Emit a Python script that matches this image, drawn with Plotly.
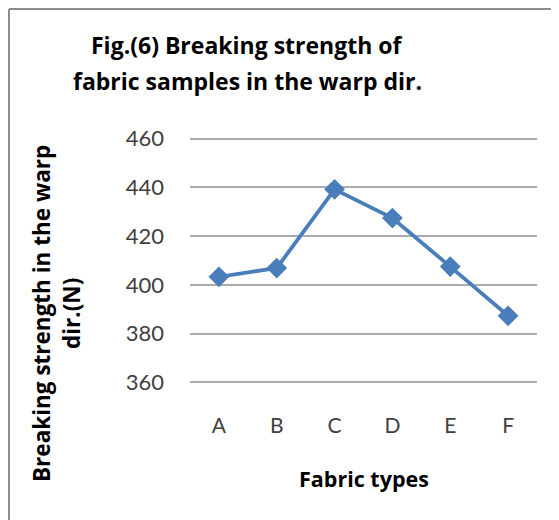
import plotly.graph_objects as go

categories = ["A", "B", "C", "D", "E", "F"]
strength = [403.3, 406.9, 439.2, 427.4, 407.5, 387.3]
y_ticks = [360, 380, 400, 420, 440, 460]

title_lines = ["Fig.(6) Breaking strength of", "fabric samples in the warp dir."]
ytitle_lines = ["Breaking strength in the warp", "dir.(N)"]
xtitle = "Fabric types"

# page has an 8px body margin, so the figure is 8px smaller and shifted
OFF = 8
W, H = 559 - OFF, 520 - OFF
L, R, T, B = 182, 22, 127, 134

fig = go.Figure()
fig.add_trace(go.Scatter(
    x=categories, y=strength, mode="lines+markers",
    line=dict(color="#4A7EBB", width=3.8),
    marker=dict(symbol="diamond", size=16, color="#4A7EBB"),
    showlegend=False,
))

FONT = "Lato"
TFONT = "Open Sans"
pw = W - L - R
ph = H - T - B

def px_x(x):
    return (x - OFF - L) / pw

def px_y(y):
    return (H - B - (y - OFF)) / ph

annotations = [
    dict(text=title_lines[0], x=px_x(247), y=px_y(45), xref="paper", yref="paper",
         showarrow=False, xanchor="center", yanchor="middle",
         font=dict(family=TFONT, size=23, color="#000000", weight="bold")),
    dict(text=title_lines[1], x=px_x(247), y=px_y(81), xref="paper", yref="paper",
         showarrow=False, xanchor="center", yanchor="middle",
         font=dict(family=TFONT, size=23, color="#000000", weight="bold")),
    dict(text=ytitle_lines[0], x=px_x(41), y=px_y(314), xref="paper", yref="paper",
         showarrow=False, xanchor="center", yanchor="middle", textangle=-90,
         font=dict(family=TFONT, size=22.5, color="#000000", weight="bold")),
    dict(text=ytitle_lines[1], x=px_x(71), y=px_y(314), xref="paper", yref="paper",
         showarrow=False, xanchor="center", yanchor="middle", textangle=-90,
         font=dict(family=TFONT, size=22.5, color="#000000", weight="bold")),
    dict(text=xtitle, x=0.5, y=px_y(478), xref="paper", yref="paper",
         showarrow=False, xanchor="center", yanchor="middle",
         font=dict(family=TFONT, size=21.5, color="#000000", weight="bold")),
]

shapes = [
    dict(type="line", xref="paper", yref="paper", x0=px_x(OFF + 1), x1=px_x(W + OFF + 5),
         y0=px_y(OFF + 1), y1=px_y(OFF + 1), line=dict(color="#8C8C8C", width=2)),
    dict(type="line", xref="paper", yref="paper", x0=px_x(OFF + 1), x1=px_x(OFF + 1),
         y0=px_y(OFF + 1), y1=px_y(H + OFF + 5), line=dict(color="#8C8C8C", width=2)),
]

fig.update_layout(
    width=W, height=H,
    margin=dict(l=L, r=R, t=T, b=B, autoexpand=False),
    paper_bgcolor="white", plot_bgcolor="white",
    font=dict(family=FONT, color="#404040"),
    annotations=annotations, shapes=shapes,
    xaxis=dict(
        type="category", range=[-0.5, 5.5], showgrid=False, zeroline=False,
        showline=False, ticks="", tickfont=dict(size=21, color="#404040"),
        ticklabelstandoff=25,
    ),
    yaxis=dict(
        range=[358.5, 461.5], tickvals=y_ticks, showgrid=True, gridcolor="#ABABAB",
        gridwidth=2, zeroline=False, showline=False, ticks="",
        tickfont=dict(size=22, color="#404040"), ticklabelstandoff=25,
    ),
)

fig.write_html("out.html")
